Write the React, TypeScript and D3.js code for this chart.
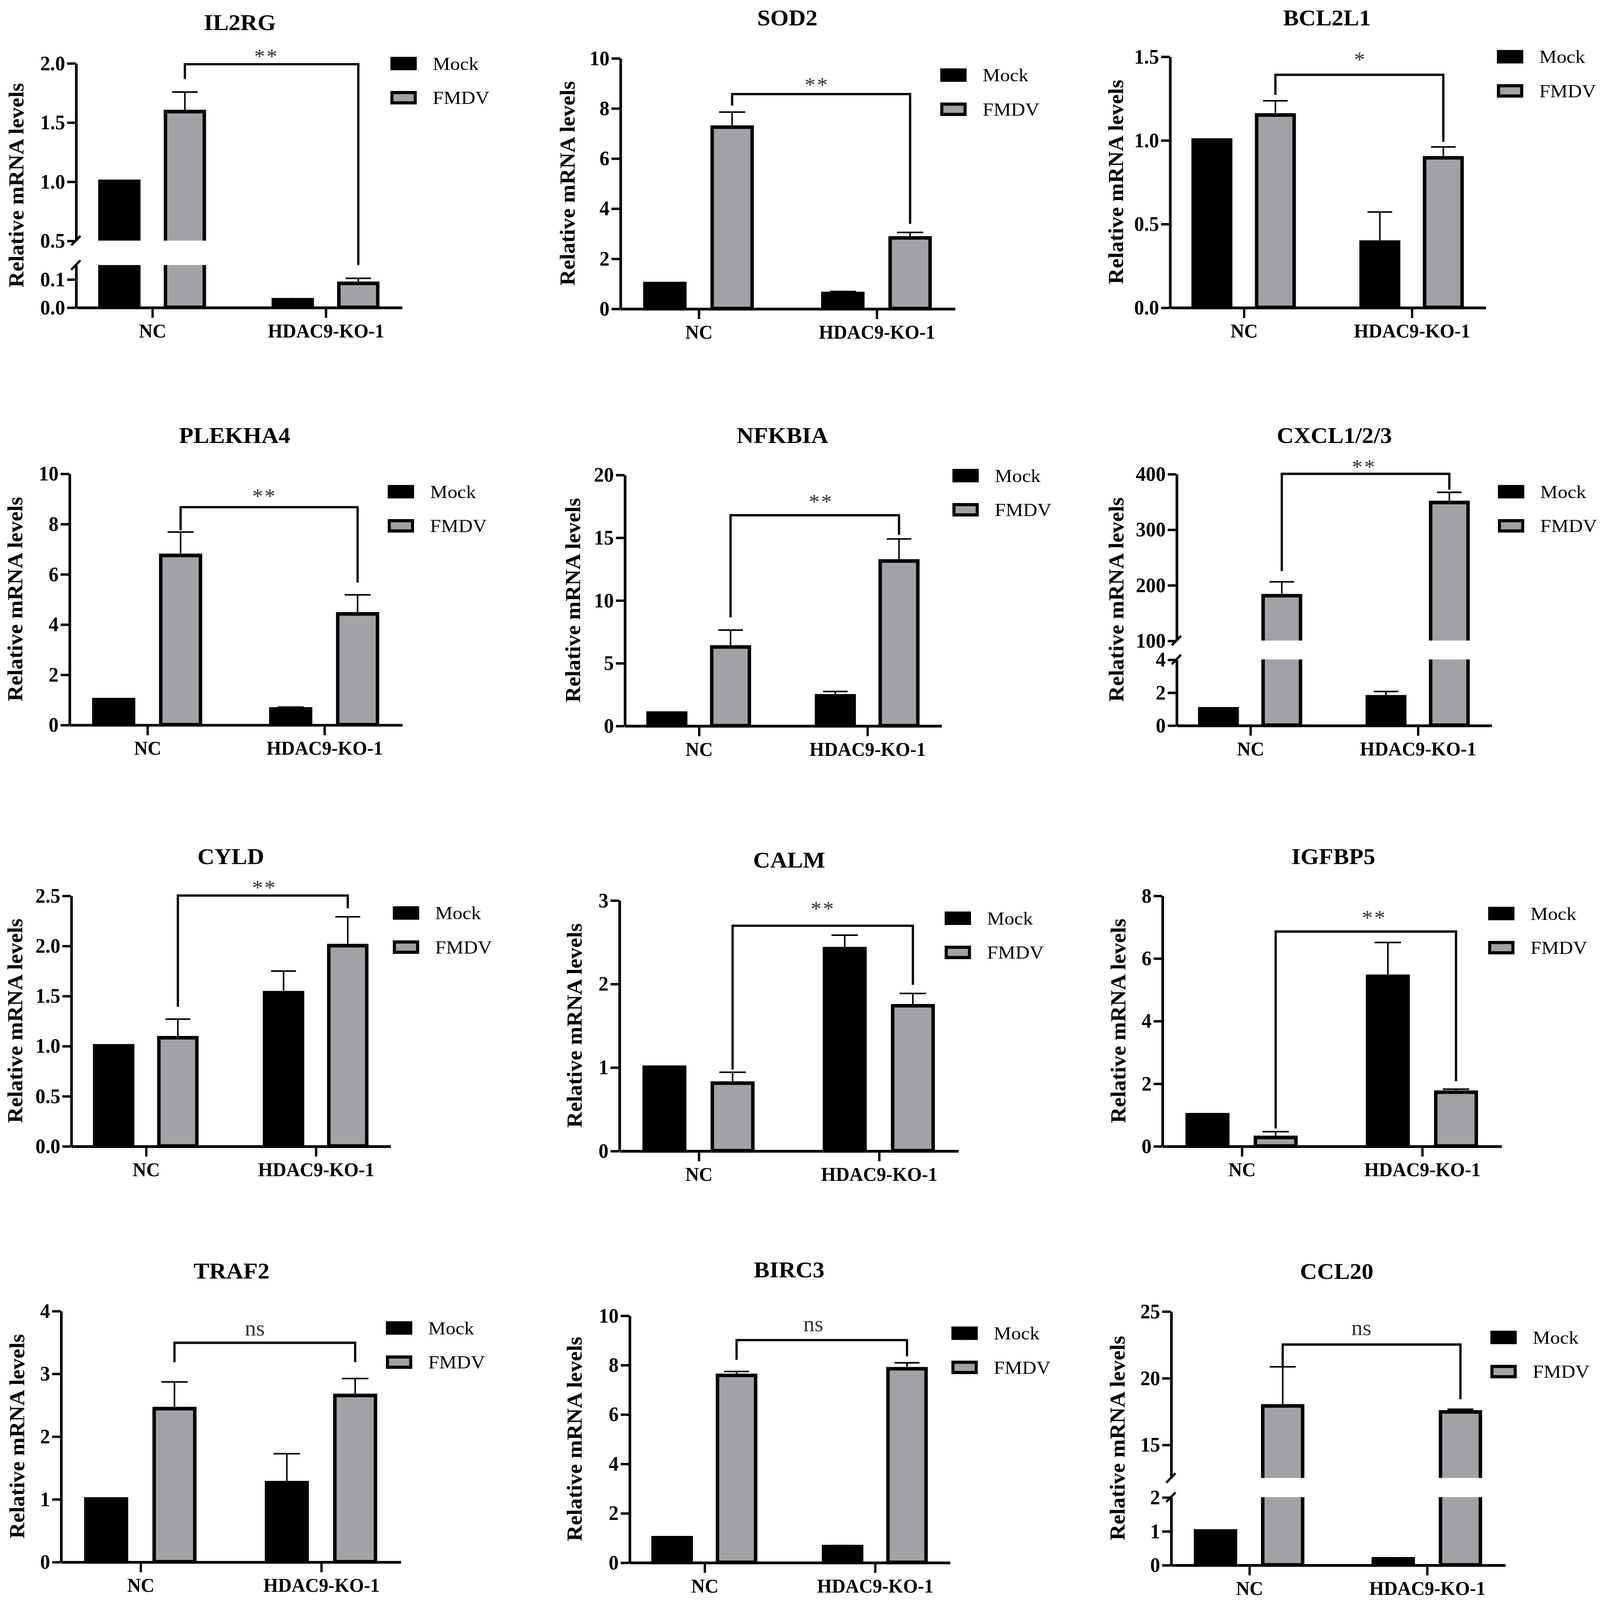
import React, { useEffect, useRef } from "react";
import * as d3 from "d3";

// ---------------- DATA ----------------
const categories = ["NC", "HDAC9-KO-1"];
const series = ["Mock", "FMDV"];
const genes = ["IL2RG", "SOD2", "BCL2L1", "PLEKHA4", "NFKBIA", "CXCL1/2/3", "CYLD", "CALM", "IGFBP5", "TRAF2", "BIRC3", "CCL20"];

// mean values per gene: [NC, HDAC9-KO-1]
const mockMeans = [
  [1.0, 0.027], [1.0, 0.6], [1.0, 0.39], [1.0, 0.63], [1.0, 2.38], [1.0, 1.73],
  [1.0, 1.53], [1.0, 2.42], [1.0, 5.42], [1.0, 1.26], [1.0, 0.64], [1.0, 0.18],
];
const mockErrors = [
  [0, 0.003], [0, 0.08], [0, 0.18], [0, 0.07], [0, 0.34], [0, 0.32],
  [0, 0.216], [0, 0.161], [0, 1.08], [0, 0.462], [0, 0.04], [0, 0.02],
];
const fmdvMeans = [
  [1.59, 0.085], [7.24, 2.82], [1.15, 0.894], [6.74, 4.41], [6.27, 13.12], [180.7, 348.4],
  [1.081, 2.0], [0.81, 1.736], [0.274, 1.72], [2.44, 2.65], [7.57, 7.84], [17.9, 17.45],
];
const fmdvErrors = [
  [0.165, 0.018], [0.6, 0.22], [0.085, 0.065], [0.93, 0.76], [1.35, 1.76], [25, 18.3],
  [0.185, 0.288], [0.13, 0.147], [0.185, 0.095], [0.425, 0.27], [0.16, 0.24], [2.93, 0.2],
];

// significance brackets: [left leg end, bracket level, right leg end] in data units
const bracketValues = [
  [1.864, 1.99, 0.15], [8.1, 8.56, 3.38], [1.27, 1.39, 0.99], [7.74, 8.66, 5.66],
  [8.63, 16.77, 15.2], [225, 411, 371.6], [1.389, 2.535, 2.373], [0.972, 2.694, 1.986],
  [0.56, 6.85, 2.07], [3.18, 3.49, 3.18], [8.2, 9.0, 8.34], [20.9, 22.5, 18.4],
];
const significance = ["**", "**", "*", "**", "**", "**", "**", "**", "**", "ns", "ns", "ns"];

// y-axis domains (one or two segments for broken axes) and tick values
const yDomains: number[][][] = [
  [[0, 0.15], [0.5, 2.0]], [[0, 10]], [[0, 1.5]], [[0, 10]], [[0, 20]], [[0, 4], [100, 400]],
  [[0, 2.5]], [[0, 3]], [[0, 8]], [[0, 4]], [[0, 10]], [[0, 2], [12.5, 25]],
];
const yTicks: number[][][] = [
  [[0, 0.1], [0.5, 1.0, 1.5, 2.0]],
  [[0, 2, 4, 6, 8, 10]],
  [[0, 0.5, 1.0, 1.5]],
  [[0, 2, 4, 6, 8, 10]],
  [[0, 5, 10, 15, 20]],
  [[0, 2, 4], [100, 200, 300, 400]],
  [[0, 0.5, 1.0, 1.5, 2.0, 2.5]],
  [[0, 1, 2, 3]],
  [[0, 2, 4, 6, 8]],
  [[0, 1, 2, 3, 4]],
  [[0, 2, 4, 6, 8, 10]],
  [[0, 1, 2], [15, 20, 25]],
];
const tickFormats = [".1f", "d", ".1f", "d", "d", "d", ".1f", "d", "d", "d", "d", "d"];
const yLabel = "Relative mRNA levels";

// ---------------- LAYOUT (view units) ----------------
const S = 2.903;
const W = 4552, H = 4421;
const layout = [
  { x0: 74.3, x1: 393.8, yr: [[292.5, 252.3], [229, 60]], tx: 235, ty: 28.7, lx: 382.6, ly: 60.5, ylx: 16, sdx: -5, sgap: 10 },
  { x0: 607.8, x1: 935.7, yr: [[293.7, 55.2]], tx: 771.6, ty: 24.1, lx: 921.5, ly: 71.5, ylx: 556, sdx: -4, sgap: 11 },
  { x0: 1146.4, x1: 1455.8, yr: [[292.6, 53.7]], tx: 1300.5, ty: 24.1, lx: 1467, ly: 54, ylx: 1093.5, sdx: 1, sgap: 17 },
  { x0: 67.9, x1: 394, yr: [[689.8, 450.7]], tx: 230, ty: 421.8, lx: 380, ly: 468, ylx: 14.9, sdx: -4.5, sgap: 13 },
  { x0: 612.1, x1: 922.5, yr: [[690.7, 451.8]], tx: 766.8, ty: 421.8, lx: 933.4, ly: 452.7, ylx: 561.4, sdx: 6.3, sgap: 15.4 },
  { x0: 1152.9, x1: 1461.6, yr: [[690.3, 627.7], [609.7, 451]], tx: 1307.7, ty: 421.8, lx: 1468, ly: 468, ylx: 1094, sdx: -1.4, sgap: 9 },
  { x0: 69.6, x1: 382.6, yr: [[1090.8, 852.4]], tx: 226.2, ty: 822.4, lx: 385, ly: 869, ylx: 14.9, sdx: 1.7, sgap: 10 },
  { x0: 606.8, x1: 939, yr: [[1095.3, 856.8]], tx: 773.4, ty: 825.6, lx: 925.8, ly: 874, ylx: 563.1, sdx: 0.3, sgap: 18.7 },
  { x0: 1139, x1: 1471.3, yr: [[1090.8, 852.4]], tx: 1306.7, ty: 822.4, lx: 1458.4, ly: 869.5, ylx: 1096, sdx: 8.3, sgap: 15.5 },
  { x0: 59.6, x1: 392.5, yr: [[1486.5, 1247.6]], tx: 226.9, ty: 1217, lx: 378.2, ly: 1264, ylx: 16.6, sdx: -9.8, sgap: 12 },
  { x0: 616.8, x1: 930.8, yr: [[1487.1, 1252]], tx: 773.4, ty: 1215.8, lx: 932.4, ly: 1269, ylx: 563.1, sdx: -8.3, sgap: 13.6 },
  { x0: 1147.5, x1: 1475, yr: [[1489.5, 1425], [1406.75, 1248]], tx: 1310, ty: 1217.4, lx: 1460.6, ly: 1273, ylx: 1095, sdx: -10, sgap: 14 },
];

const FONT = "'Liberation Serif', 'Times New Roman', Times, serif";
const GRAY = "#a2a2a6";
const BAR_SW = 3.4;
const AXIS_SW = 2.6;

function Panel({ i }: { i: number }) {
  const L = layout[i];
  const yAxisRef = useRef<SVGGElement>(null);
  const xAxisRef = useRef<SVGGElement>(null);

  const segs = yDomains[i].map((dom, k) => d3.scaleLinear().domain(dom).range(L.yr[k]));
  const yOf = (v: number) => {
    for (let k = segs.length - 1; k >= 0; k--) {
      const d = segs[k].domain();
      if (v >= d[0] - 1e-9 || k === 0) return segs[k](Math.min(v, d[1]));
    }
    return segs[0](v);
  };
  const x = d3.scalePoint<string>().domain(categories).range([L.x0, L.x1]).padding(0.44);
  const step = x.step();
  const inner = d3.scaleBand<string>().domain(series).range([-0.311 * step, 0.311 * step]).paddingInner(0.3545);
  const bw = inner.bandwidth();
  const y0 = L.yr[0][0];
  const yTopPx = L.yr[L.yr.length - 1][1];

  useEffect(() => {
    const gy = d3.select(yAxisRef.current!);
    gy.selectAll("*").remove();
    segs.forEach((sc, k) => {
      const g = gy.append("g").attr("transform", `translate(${L.x0},0)`);
      g.call(
        d3.axisLeft(sc)
          .tickValues(yTicks[i][k])
          .tickFormat(d3.format(tickFormats[i]) as any)
          .tickSize(8.5)
          .tickSizeOuter(0)
          .tickPadding(2)
      );
      g.attr("font-family", FONT).attr("font-size", 19.5).attr("font-weight", "bold");
      g.select(".domain").attr("stroke-width", AXIS_SW).attr("stroke", "#000");
      g.selectAll(".tick line").attr("stroke-width", 2.3).attr("stroke", "#000");
      g.selectAll(".tick text").attr("fill", "#000");
    });
    if (segs.length > 1) {
      [L.yr[0][1], L.yr[1][0]].forEach((yy) => {
        gy.append("line")
          .attr("x1", L.x0 - 4.5).attr("y1", yy + 4.5)
          .attr("x2", L.x0 + 4.5).attr("y2", yy - 4.5)
          .attr("stroke", "#000").attr("stroke-width", 2.2);
      });
    }
    const gx = d3.select(xAxisRef.current!);
    gx.selectAll("*").remove();
    gx.attr("transform", `translate(0,${y0})`)
      .call(d3.axisBottom(x).tickSize(10).tickSizeOuter(0).tickPadding(5.5) as any);
    gx.attr("font-family", FONT).attr("font-size", 18.5).attr("font-weight", "bold");
    gx.select(".domain").attr("stroke-width", AXIS_SW).attr("stroke", "#000");
    gx.selectAll(".tick line").attr("stroke-width", 2.3).attr("stroke", "#000");
    gx.selectAll(".tick text").attr("fill", "#000");
  }, [i]);

  const meansBy = [mockMeans[i], fmdvMeans[i]];
  const errsBy = [mockErrors[i], fmdvErrors[i]];
  const fills = ["#000", GRAY];

  const bars: React.ReactNode[] = [];
  const errs: React.ReactNode[] = [];
  series.forEach((s, si) => {
    categories.forEach((c, ci) => {
      const v = meansBy[si][ci];
      const e = errsBy[si][ci];
      const left = (x(c) as number) + (inner(s) as number);
      const xl = left + BAR_SW / 2;
      const xr = left + bw - BAR_SW / 2;
      const cx = left + bw / 2;
      segs.forEach((sc, k) => {
        const [dmin, dmax] = sc.domain();
        if (k > 0 && v <= dmin) return;
        const yb = sc(dmin);
        const yt = sc(Math.min(v, dmax));
        const closedTop = v <= dmax;
        const d = closedTop
          ? `M${xl},${yb}L${xl},${yt}L${xr},${yt}L${xr},${yb}${k === 0 ? "Z" : ""}`
          : `M${xl},${yb}L${xl},${yt}M${xr},${yt}L${xr},${yb}${k === 0 ? `L${xl},${yb}` : ""}`;
        bars.push(
          <g key={`b-${si}-${ci}-${k}`}>
            <rect x={xl} y={yt} width={xr - xl} height={Math.max(0, yb - yt)} fill={fills[si]} />
            <path d={d} fill="none" stroke="#000" strokeWidth={BAR_SW} strokeLinejoin="miter" />
          </g>
        );
      });
      if (e > 0) {
        const ye = yOf(v + e);
        const cap = bw * 0.6;
        errs.push(
          <g key={`e-${si}-${ci}`} stroke="#000" strokeWidth={1.5}>
            <line x1={cx} x2={cx} y1={yOf(v) - BAR_SW / 2} y2={ye} />
            <line x1={cx - cap / 2} x2={cx + cap / 2} y1={ye} y2={ye} />
          </g>
        );
      }
    });
  });

  const [bl, bt, br] = bracketValues[i];
  const xL = (x(categories[0]) as number) + (inner(series[1]) as number) + bw / 2;
  const xR = (x(categories[1]) as number) + (inner(series[1]) as number) + bw / 2;
  const yBr = yOf(bt);
  const sig = significance[i];
  const isStar = sig.indexOf("*") >= 0;
  const sigFs = isStar ? 20 : 21;
  const sigCenterY = yBr - L.sgap;
  const sigBaseline = isStar ? sigCenterY + 0.45 * sigFs : sigCenterY + 0.24 * sigFs;

  return (
    <g>
      <g transform={`translate(${L.tx},${L.ty}) scale(1.1,1)`}>
        <text textAnchor="middle" fontFamily={FONT} fontWeight="bold" fontSize={21} fill="#000">
          {genes[i]}
        </text>
      </g>
      <text
        transform={`translate(${L.ylx + 7},${(y0 + yTopPx) / 2}) rotate(-90)`}
        textAnchor="middle"
        fontFamily={FONT}
        fontWeight="bold"
        fontSize={21}
        fill="#000"
      >
        {yLabel}
      </text>
      {bars}
      {errs}
      <g ref={yAxisRef} />
      <g ref={xAxisRef} />
      <path d={`M${xL},${yOf(bl)}V${yBr}H${xR}V${yOf(br)}`} fill="none" stroke="#000" strokeWidth={2.2} />
      <g transform={`translate(${(xL + xR) / 2 + L.sdx},${sigBaseline}) scale(1.05,1)`}>
        <text textAnchor="middle" fontFamily={FONT} fontSize={sigFs} fill="#333" letterSpacing={isStar ? 1.5 : 0}>
          {sig}
        </text>
      </g>
      {series.map((s, si) => {
        const cy = L.ly + si * 32.5;
        return (
          <g key={`lg-${si}`}>
            {si === 0 ? (
              <rect x={L.lx} y={cy - 6.4} width={25.8} height={12.8} fill="#000" />
            ) : (
              <rect x={L.lx + 1.5} y={cy - 4.9} width={22.8} height={9.8} fill={GRAY} stroke="#000" strokeWidth={3} />
            )}
            <g transform={`translate(${L.lx + 41.5},${cy + 6}) scale(1.1,1)`}>
              <text fontFamily={FONT} fontSize={17.5} fill="#000">
                {s}
              </text>
            </g>
          </g>
        );
      })}
    </g>
  );
}

export default function App() {
  useEffect(() => {
    document.documentElement.style.overflow = "hidden";
    document.body.style.margin = "0";
    document.body.style.overflow = "hidden";
  }, []);
  return (
    <svg
      viewBox={`0 0 ${W / S} ${H / S}`}
      preserveAspectRatio="none"
      style={{ position: "fixed", left: 0, top: 0, width: "100vw", height: "100vh", display: "block", background: "#fff" }}
      xmlns="http://www.w3.org/2000/svg"
    >
      <rect x={0} y={0} width={W / S} height={H / S} fill="#fff" />
      {genes.map((g, i) => (
        <Panel key={g} i={i} />
      ))}
    </svg>
  );
}
